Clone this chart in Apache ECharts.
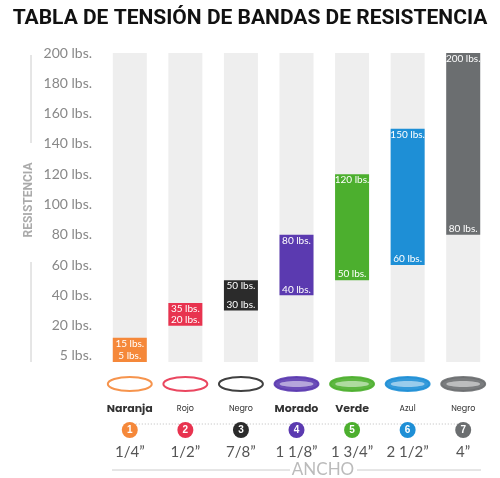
<!DOCTYPE html>
<html><head><meta charset="utf-8">
<script src="https://cdn.jsdelivr.net/npm/echarts@6/dist/echarts.min.js"></script>
<style>html,body{margin:0;background:#fff}#c{width:500px;height:478px}</style></head>
<body><div id="c"></div>
<script>
const names=['Naranja','Rojo','Negro','Morado','Verde','Azul','Negro'];
const widths=['1/4”','1/2”','7/8”','1 1/8”','1 3/4”','2 1/2”','4”'];
const lows=[5,20,30,40,50,60,80];
const highs=[15,35,50,80,120,150,200];
const colors=['#f5883a','#e8334f','#2b2b2b','#5b3ab0','#4caf2e','#1e8fd6','#6b6e70'];
const tickLabels=['5 lbs.','20 lbs.','40 lbs.','60 lbs.','80 lbs.','100 lbs.','120 lbs.','140 lbs.','160 lbs.','180 lbs.','200 lbs.'];
const bigName=[true,false,false,true,true,false,false];
const OFF=4;
const pos=v=>OFF+(v<20?-4+(v-5)*24/15:v);
const cats=names.map((n,i)=>i);
const rich={};
names.forEach((n,i)=>{
  rich['n'+i]={fontFamily:'Poppins, Noto Sans',fontSize:bigName[i]?11:8,fontWeight:bigName[i]?'bold':'normal',color:'#333',lineHeight:22};
  rich['c'+i]={backgroundColor:colors[i],color:'#fff',width:16,height:16,borderRadius:8,align:'center',fontSize:10,fontWeight:'bold',lineHeight:20};
});
rich.w={fontFamily:'Lato',fontSize:15,color:'#555',lineHeight:24};
const chart=echarts.init(document.getElementById('c'));
const lblBase={show:true,color:'#fff',fontFamily:'Lato, Noto Sans',fontSize:10};
const BW=34;
chart.setOption({
  animation:false,
  title:{text:'TABLA DE TENSIÓN DE BANDAS DE RESISTENCIA',left:'center',top:3,
    textStyle:{fontFamily:'Liberation Sans Narrow, Roboto',fontWeight:'bold',fontSize:21,color:'#111'}},
  grid:{left:102,right:9,top:53,bottom:116},
  xAxis:{type:'category',data:cats,axisLine:{show:false},axisTick:{show:false},
    axisLabel:{margin:36,interval:0,formatter:(v,i)=>`{n${i}|${names[i]}}\n{c${i}|${i+1}}\n{w|${widths[i]}}`,rich}},
  yAxis:{type:'value',min:0,max:200+OFF,interval:20,splitLine:{show:false},
    axisLabel:{customValues:tickLabels.map((t,i)=>i*20+OFF),formatter:v=>tickLabels[Math.round((v-OFF)/20)],fontFamily:'Lato',fontSize:14,color:'#888',margin:10}},
  series:[
    {type:'bar',data:cats.map(()=>200+OFF),barWidth:BW,itemStyle:{color:'#eeeeee'},barGap:'-100%',silent:true},
    {type:'bar',stack:'r',barWidth:BW,barGap:'-100%',data:lows.map(pos),itemStyle:{color:'transparent'},
      label:{...lblBase,position:'top',distance:1,formatter:p=>lows[p.dataIndex]+' lbs.'}},
    {type:'bar',stack:'r',barWidth:BW,barGap:'-100%',data:highs.map((h,i)=>pos(h)-pos(lows[i])),
      itemStyle:{color:p=>colors[p.dataIndex]},
      label:{...lblBase,position:'insideTop',distance:1,formatter:p=>highs[p.dataIndex]+' lbs.'}}
  ]
});
const g=[];
const xs=cats.map(i=>chart.convertToPixel({xAxisIndex:0},i));
g.push({type:'line',shape:{x1:xs[0],y1:424,x2:xs[6],y2:424},z:-1,style:{stroke:'#bbb',lineDash:[1,2],lineWidth:1}});
xs.forEach((x,i)=>{
  g.push({type:'ellipse',shape:{cx:x,cy:384,rx:22,ry:7},style:{fill:i>=3?colors[i]:'none',stroke:colors[i],lineWidth:2,opacity:0.9}});
  if(i>=3) g.push({type:'ellipse',shape:{cx:x,cy:384,rx:17,ry:3},style:{fill:'#fff',opacity:0.5}});
});
g.push({type:'line',shape:{x1:112,y1:470,x2:290,y2:470},style:{stroke:'#ccc',lineWidth:1}});
g.push({type:'line',shape:{x1:357,y1:470,x2:481,y2:470},style:{stroke:'#ccc',lineWidth:1}});
g.push({type:'text',x:323,y:470,style:{text:'ANCHO',fontFamily:'Lato',fontSize:17,fill:'#bbb',align:'center',verticalAlign:'middle'}});
g.push({type:'line',shape:{x1:31,y1:55,x2:31,y2:143},style:{stroke:'#ccc',lineWidth:1}});
g.push({type:'line',shape:{x1:31,y1:262,x2:31,y2:362},style:{stroke:'#ccc',lineWidth:1}});
g.push({type:'text',x:29,y:200,rotation:Math.PI/2,style:{text:'RESISTENCIA',fontFamily:'Roboto',fontWeight:'bold',fontSize:12,fill:'#aaa',align:'center',verticalAlign:'middle'}});
chart.setOption({graphic:g});
</script></body></html>
